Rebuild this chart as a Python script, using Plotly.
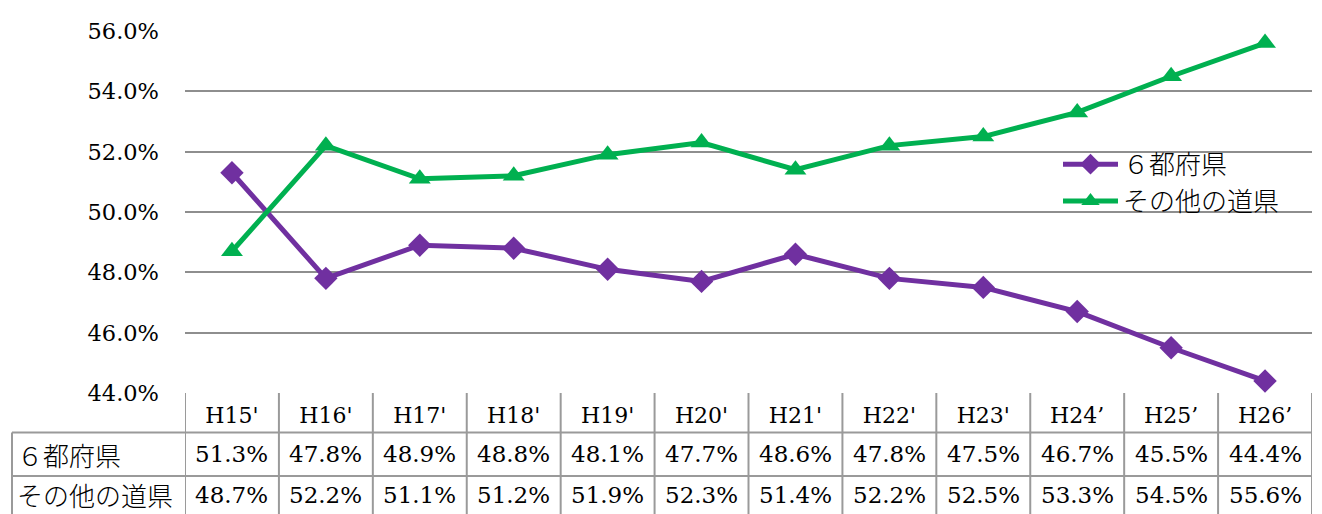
import plotly.graph_objects as go

categories = ["H15'", "H16'", "H17'", "H18'", "H19'", "H20'", "H21'",
              "H22'", "H23'", "H24’", "H25’", "H26’"]
series_names = ["６都府県", "その他の道県"]
six_pref = [51.3, 47.8, 48.9, 48.8, 48.1, 47.7, 48.6, 47.8, 47.5, 46.7, 45.5, 44.4]
other_pref = [48.7, 52.2, 51.1, 51.2, 51.9, 52.3, 51.4, 52.2, 52.5, 53.3, 54.5, 55.6]
y_ticks = [44, 46, 48, 50, 52, 54, 56]

# the page body has an 8px margin; positions below are in screen pixels
O = 8
SW, SH = 1322, 514
W, H = SW - O, SH - O
S_LEFT, S_RIGHT, S_TOP, S_BOTTOM = 185, 1312, 27, 393
L, T = S_LEFT - O, S_TOP - O
R, B = W - (S_RIGHT - O), H - (S_BOTTOM - O)
PW, PH = W - L - R, H - T - B


def py(p):
    return (S_BOTTOM - p) / PH


def px(p):
    return (p - S_LEFT) / PW


NUM_FONT = "DejaVu Serif"
JP_FONT = "Noto Sans CJK JP"
PURPLE = "#7030A0"
GREEN = "#00B050"
GRID = "#8E8E8E"
TABLE = "#9A9A9A"

xs = list(range(len(categories)))

fig = go.Figure()
fig.add_trace(go.Scatter(
    x=xs, y=six_pref, name=series_names[0], mode="lines+markers",
    line=dict(color=PURPLE, width=5),
    marker=dict(symbol="diamond", size=18, color=PURPLE),
    legendgroup="a", cliponaxis=False,
))
fig.add_trace(go.Scatter(
    x=xs, y=other_pref, name=series_names[1], mode="lines+markers",
    line=dict(color=GREEN, width=5),
    marker=dict(symbol="triangle-up", size=19, color=GREEN),
    legendgroup="b", cliponaxis=False,
))

shapes = []
row_lines = [433, 477]
bottom = SH + 4
for p in row_lines:
    shapes.append(dict(type="line", xref="paper", yref="paper",
                       x0=px(12), x1=1, y0=py(p), y1=py(p),
                       line=dict(color=TABLE, width=2)))
for i in range(len(categories) + 1):
    shapes.append(dict(type="line", xref="x", yref="paper",
                       x0=i - 0.5, x1=i - 0.5, y0=0, y1=py(bottom),
                       line=dict(color=TABLE, width=2)))
shapes.append(dict(type="line", xref="paper", yref="paper",
                   x0=px(12), x1=px(12), y0=py(433), y1=py(bottom),
                   line=dict(color=TABLE, width=2)))

annotations = []
row_centers = [455, 496]
for vals, name, yc in zip([six_pref, other_pref], series_names, row_centers):
    annotations.append(dict(xref="paper", yref="paper", x=px(15), y=py(yc),
                            text=name, showarrow=False, xanchor="left",
                            yanchor="middle",
                            font=dict(family=JP_FONT, size=26, color="#000",
                                      weight=300)))
    for i, v in enumerate(vals):
        annotations.append(dict(xref="x", yref="paper", x=i, y=py(yc),
                                text=f"{v:.1f}%", showarrow=False,
                                xanchor="center", yanchor="middle",
                                font=dict(family=NUM_FONT, size=23, color="#000")))

fig.update_layout(
    width=W, height=H,
    margin=dict(l=L, r=R, t=T, b=B, pad=0),
    paper_bgcolor="white", plot_bgcolor="white",
    font=dict(family=NUM_FONT, size=22, color="#000"),
    showlegend=True,
    legend=dict(x=px(1058), y=py(138), xanchor="left", yanchor="top",
                bgcolor="rgba(0,0,0,0)",
                font=dict(family=JP_FONT, size=26, color="#000", weight=300),
                traceorder="grouped", tracegroupgap=0,
                itemwidth=55),
    xaxis=dict(range=[-0.5, len(categories) - 0.5], tickvals=xs,
               ticktext=categories, showgrid=False, zeroline=False,
               showline=False, ticks="", ticklabelstandoff=7,
               tickfont=dict(family=NUM_FONT, size=22, color="#000")),
    yaxis=dict(range=[44, 56], tickvals=y_ticks,
               ticktext=[f"{v:.1f}%" for v in y_ticks],
               showgrid=True, gridcolor=GRID, gridwidth=2,
               zeroline=False, showline=False, ticks="",
               ticklabelstandoff=25,
               tickfont=dict(family=NUM_FONT, size=22.5, color="#000")),
    shapes=shapes, annotations=annotations,
)

fig.write_html("out.html")
